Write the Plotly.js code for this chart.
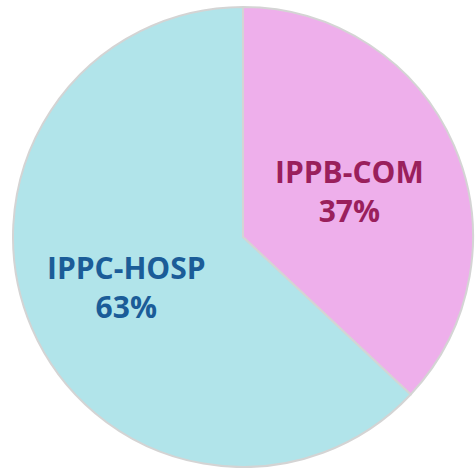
<!DOCTYPE html>
<html>
<head>
<meta charset="utf-8">
<script src="https://cdn.plot.ly/plotly-3.0.1.min.js"></script>
<style>html,body{margin:0;padding:0;background:#fff;}#chart{width:475px;height:468px;}</style>
</head>
<body>
<div id="chart"></div>
<script>
const categories = ["IPPB-COM", "IPPC-HOSP"];
const shares = [37, 63];
const sliceColors = ["#EEAFEB", "#B1E4EA"];
const labelColors = ["#9A1F5C", "#1B5C98"];

const W = 475, H = 468;
const cx = 243, cy = 237, r = 230;
const labelRadius = [0.505, 0.55];

const total = shares.reduce((a, b) => a + b, 0);
let cum = 0;
const annotations = categories.map((c, i) => {
  const mid = (cum + shares[i] / 2) / total * 2 * Math.PI;
  cum += shares[i];
  const px = cx + Math.sin(mid) * r * labelRadius[i];
  const py = cy - Math.cos(mid) * r * labelRadius[i];
  return {
    xref: "paper", yref: "paper",
    x: px / W, y: 1 - py / H,
    xanchor: "center", yanchor: "middle",
    showarrow: false,
    text: "<b>" + c + "</b><br><b>" + Math.round(shares[i] / total * 100) + "%</b>",
    font: { family: "Open Sans, sans-serif", size: 30, color: labelColors[i] }
  };
});

Plotly.newPlot("chart", [{
  type: "pie",
  labels: categories,
  values: shares,
  sort: false,
  direction: "clockwise",
  rotation: 0,
  marker: { colors: sliceColors, line: { color: "#d4d4d4", width: 2 } },
  textinfo: "none",
  hoverinfo: "none",
  domain: { x: [(cx - r) / W, (cx + r) / W], y: [1 - (cy + r) / H, 1 - (cy - r) / H] }
}], {
  width: W, height: H,
  margin: { l: 0, r: 0, t: 0, b: 0 },
  showlegend: false,
  paper_bgcolor: "#ffffff",
  annotations: annotations
}, { displayModeBar: false, staticPlot: true });
</script>
</body>
</html>
